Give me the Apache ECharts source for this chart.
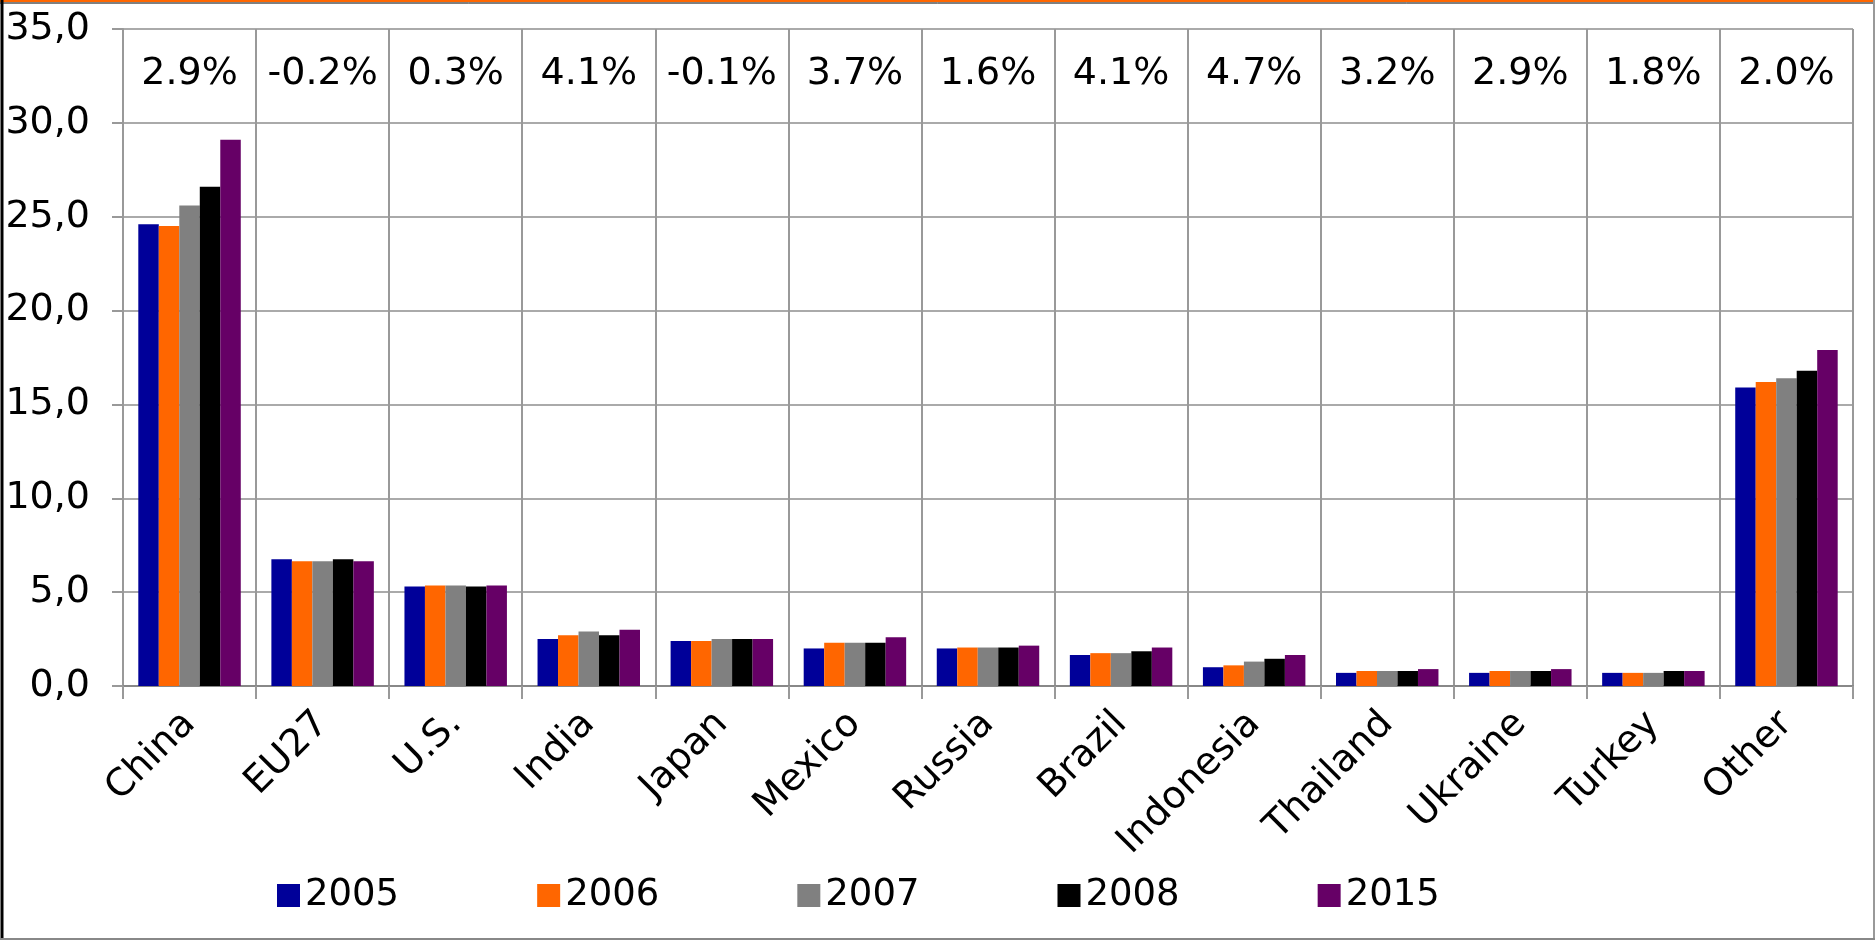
<!DOCTYPE html>
<html>
<head>
<meta charset="utf-8">
<script src="https://cdn.jsdelivr.net/npm/echarts@6/dist/echarts.min.js"></script>
<style>
  html, body { margin: 0; padding: 0; background: #fff; }
  #chart { width: 1875px; height: 940px; }
</style>
</head>
<body>
<div id="chart"></div>
<script>
// categories and tick labels
const countries = ['China', 'EU27', 'U.S.', 'India', 'Japan', 'Mexico', 'Russia', 'Brazil', 'Indonesia', 'Thailand', 'Ukraine', 'Turkey', 'Other']
const growth = ['2.9%', '-0.2%', '0.3%', '4.1%', '-0.1%', '3.7%', '1.6%', '4.1%', '4.7%', '3.2%', '2.9%', '1.8%', '2.0%']
const years = ['2005', '2006', '2007', '2008', '2015']

// series values
const v2005 = [24.6, 6.75, 5.3, 2.5, 2.4, 2.0, 2.0, 1.65, 1.0, 0.7, 0.7, 0.7, 15.9]
const v2006 = [24.5, 6.65, 5.35, 2.7, 2.4, 2.3, 2.05, 1.75, 1.1, 0.8, 0.8, 0.7, 16.2]
const v2007 = [25.6, 6.65, 5.35, 2.9, 2.5, 2.3, 2.05, 1.75, 1.3, 0.8, 0.8, 0.7, 16.4]
const v2008 = [26.6, 6.75, 5.3, 2.7, 2.5, 2.3, 2.05, 1.85, 1.45, 0.8, 0.8, 0.8, 16.8]
const v2015 = [29.1, 6.65, 5.35, 3.0, 2.5, 2.6, 2.15, 2.05, 1.65, 0.9, 0.9, 0.8, 17.9]

const colors = ['#000099', '#ff6600', '#808080', '#000000', '#660066']
const font = 'DejaVu Sans, Verdana, sans-serif'

let myChart = echarts.init(document.getElementById('chart'))
myChart.setOption({
  animation: false,
  color: colors,
  textStyle: { fontFamily: font },
  graphic: [
    { type: 'line', shape: { x1: 0, y1: 1, x2: 1875, y2: 1 }, style: { stroke: '#ff6600', lineWidth: 2 } },
    { type: 'line', shape: { x1: 0, y1: 3, x2: 1875, y2: 3 }, style: { stroke: '#000', lineWidth: 1 } },
    { type: 'line', shape: { x1: 2, y1: 0, x2: 2, y2: 940 }, style: { stroke: '#000', lineWidth: 3 } },
    { type: 'line', shape: { x1: 1874, y1: 0, x2: 1874, y2: 940 }, style: { stroke: '#999', lineWidth: 2 } },
    { type: 'line', shape: { x1: 0, y1: 939, x2: 1875, y2: 939 }, style: { stroke: '#888', lineWidth: 2 } }
  ],
  legend: {
    data: years,
    left: 272,
    top: 872,
    itemWidth: 23,
    itemHeight: 23,
    itemGap: 138,
    icon: 'rect',
    textStyle: { fontSize: 37, color: '#000', fontFamily: font }
  },
  grid: {
    left: 123,
    right: 22,
    top: 29,
    bottom: 254
  },
  xAxis: [
    {
      type: 'category',
      data: countries,
      axisLine: { lineStyle: { color: '#888', width: 2 } },
      axisTick: { show: true, length: 13, lineStyle: { color: '#999', width: 2 } },
      splitLine: { show: true, lineStyle: { color: '#999', width: 2 } },
      axisLabel: { rotate: 45, fontSize: 38, color: '#000', margin: 32, interval: 0 }
    },
    {
      type: 'category',
      position: 'top',
      data: growth,
      axisLine: { show: false },
      axisTick: { show: false },
      axisLabel: { inside: true, fontSize: 38, color: '#000', margin: 26, interval: 0 }
    }
  ],
  yAxis: {
    type: 'value',
    min: 0,
    max: 35,
    interval: 5,
    axisLine: { show: true, lineStyle: { color: '#999', width: 2 } },
    axisTick: { show: true, length: 11, lineStyle: { color: '#999', width: 2 } },
    splitLine: { show: true, lineStyle: { color: '#aaa', width: 2 } },
    axisLabel: {
      fontSize: 38,
      color: '#000',
      margin: 33,
      formatter: function (v) { return v.toFixed(1).replace('.', ',') }
    }
  },
  series: [
    { name: years[0], type: 'bar', data: v2005, barGap: '0%', barCategoryGap: '23%' },
    { name: years[1], type: 'bar', data: v2006 },
    { name: years[2], type: 'bar', data: v2007 },
    { name: years[3], type: 'bar', data: v2008 },
    { name: years[4], type: 'bar', data: v2015 }
  ]
})
</script>
</body>
</html>
